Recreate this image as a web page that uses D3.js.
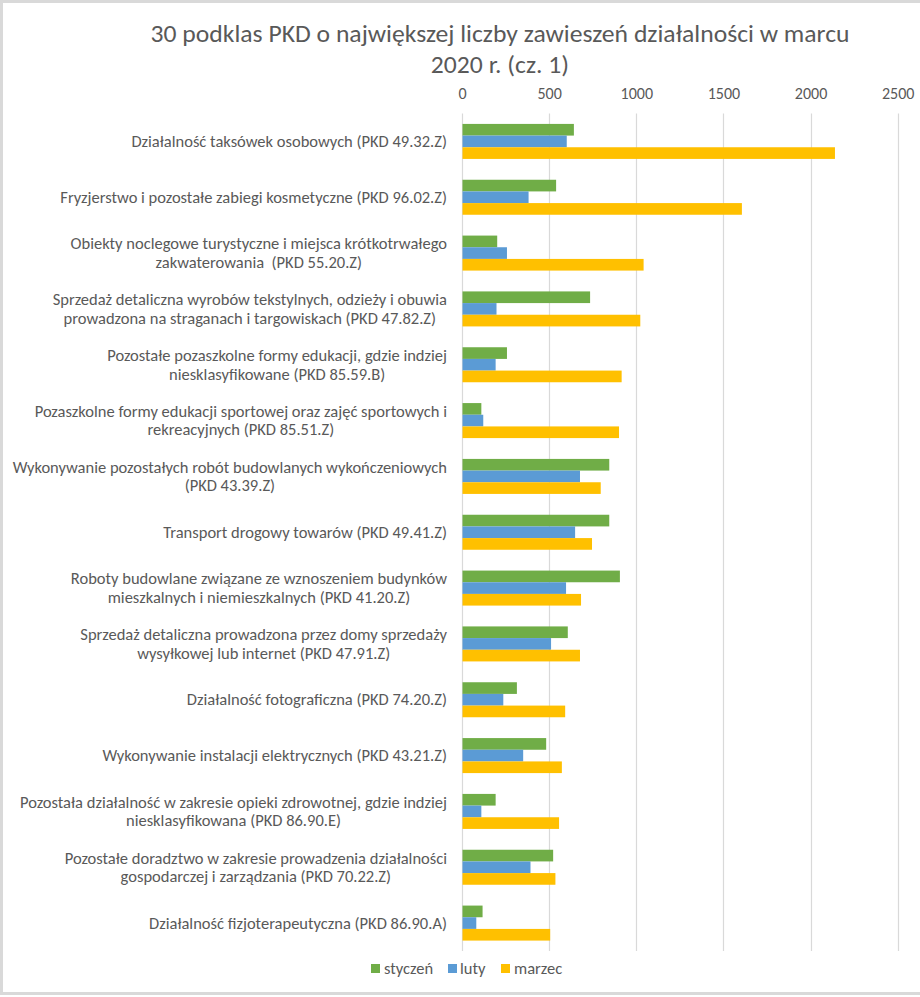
<!DOCTYPE html>
<html>
<head>
<meta charset="utf-8">
<script src="https://cdn.jsdelivr.net/npm/d3@7"></script>
<style>
  html, body { margin: 0; padding: 0; background: #fff; }
  svg { display: block; }
  text { font-family: Carlito, Lato, "Open Sans", sans-serif; fill: #595959; }
</style>
</head>
<body>
<svg id="chart" width="920" height="997"></svg>
<script>
const titleLines = ["30 podklas PKD o największej liczby zawieszeń działalności w marcu", "2020 r. (cz. 1)"];
const categories = [
  "Działalność taksówek osobowych (PKD 49.32.Z)",
  "Fryzjerstwo i pozostałe zabiegi kosmetyczne (PKD 96.02.Z)",
  "Obiekty noclegowe turystyczne i miejsca krótkotrwałego\nzakwaterowania  (PKD 55.20.Z)",
  "Sprzedaż detaliczna wyrobów tekstylnych, odzieży i obuwia\nprowadzona na straganach i targowiskach (PKD 47.82.Z)",
  "Pozostałe pozaszkolne formy edukacji, gdzie indziej\nniesklasyfikowane (PKD 85.59.B)",
  "Pozaszkolne formy edukacji sportowej oraz zajęć sportowych i\nrekreacyjnych (PKD 85.51.Z)",
  "Wykonywanie pozostałych robót budowlanych wykończeniowych\n(PKD 43.39.Z)",
  "Transport drogowy towarów (PKD 49.41.Z)",
  "Roboty budowlane związane ze wznoszeniem budynków\nmieszkalnych i niemieszkalnych (PKD 41.20.Z)",
  "Sprzedaż detaliczna prowadzona przez domy sprzedaży\nwysyłkowej lub internet (PKD 47.91.Z)",
  "Działalność fotograficzna (PKD 74.20.Z)",
  "Wykonywanie instalacji elektrycznych (PKD 43.21.Z)",
  "Pozostała działalność w zakresie opieki zdrowotnej, gdzie indziej\nniesklasyfikowana (PKD 86.90.E)",
  "Pozostałe doradztwo w zakresie prowadzenia działalności\ngospodarczej i zarządzania (PKD 70.22.Z)",
  "Działalność fizjoterapeutyczna (PKD 86.90.A)"
];
const seriesNames = ["styczeń", "luty", "marzec"];
const styczen = [642, 540, 202, 735, 258, 111, 845, 845, 906, 607, 315, 483, 193, 523, 118];
const luty    = [601, 382, 258, 198, 193, 122, 677, 649, 597, 511, 237, 351, 111, 393, 82];
const marzec  = [2140, 1606, 1042, 1023, 916, 901, 796, 746, 683, 677, 592, 573, 557, 536, 506];
const tickValues = [0, 500, 1000, 1500, 2000, 2500];
const colors = ["#70AD47", "#5B9BD5", "#FFC000"];

const seriesValues = [styczen, luty, marzec];
const data = categories.map((c, i) => ({ cat: c, values: seriesValues.map((s, j) => ({ key: seriesNames[j], value: s[i] })) }));

const svg = d3.select("#chart");

// outer frame
svg.append("rect").attr("x", 1.5).attr("y", 1.5).attr("width", 930).attr("height", 992)
  .attr("fill", "#fff").attr("stroke", "#d9d9d9").attr("stroke-width", 3);

const plotTop = 113.5, plotBottom = 951;
const x = d3.scaleLinear().domain([0, 2500]).range([462, 897.7]);
const y = d3.scaleBand().domain(categories).range([plotTop, plotBottom]).paddingInner(0.373).paddingOuter(0.1865);
const ySub = d3.scaleBand().domain(seriesNames).range([0, y.bandwidth()]);
const color = d3.scaleOrdinal().domain(seriesNames).range(colors);

// gridlines
svg.append("g").selectAll("line").data(tickValues).join("line")
  .attr("x1", d => Math.round(x(d)) + 0.5).attr("x2", d => Math.round(x(d)) + 0.5)
  .attr("y1", plotTop).attr("y2", plotBottom)
  .attr("stroke", "#d9d9d9").attr("stroke-width", 1.2);

// top axis labels
const axis = svg.append("g").attr("transform", `translate(0,${plotTop})`)
  .call(d3.axisTop(x).tickValues(tickValues).tickSize(0).tickPadding(15).tickFormat(d3.format("d")));
axis.select(".domain").remove();
axis.selectAll("text").attr("font-family", null).attr("font-size", null).style("font-size", "16px").attr("fill", "#595959");

// bars
const groups = svg.append("g").selectAll("g").data(data).join("g")
  .attr("transform", d => `translate(0,${y(d.cat)})`);
groups.selectAll("rect").data(d => d.values).join("rect")
  .attr("x", x(0) + 0.5)
  .attr("y", d => ySub(d.key))
  .attr("height", ySub.bandwidth())
  .attr("width", d => x(d.value) - x(0) - 0.5)
  .attr("fill", d => color(d.key));

// category labels
const labelRight = 447;
const lineH = 18.5;
const labelSize = 16.5;
const labels = svg.append("g").selectAll("text").data(categories).join("text")
  .style("font-size", labelSize + "px")
  .style("white-space", "pre")
  .attr("text-anchor", "middle");
labels.each(function(d) {
  const lines = d.split("\n");
  const t = d3.select(this);
  const cy = y(d) + y.bandwidth() / 2;
  const y0 = cy - (lines.length - 1) * lineH / 2 + 5.5;
  lines.forEach((ln, k) => {
    t.append("tspan").attr("y", y0 + k * lineH).text(ln);
  });
  let maxW = 0;
  t.selectAll("tspan").each(function() { maxW = Math.max(maxW, this.getComputedTextLength()); });
  t.selectAll("tspan").attr("x", labelRight - maxW / 2);
});

// title
const titleWidth = 699;
const title = svg.append("g");
const titleTexts = title.selectAll("text").data(titleLines).join("text")
  .attr("x", 500).attr("y", (d, i) => 42 + i * 31)
  .attr("text-anchor", "middle")
  .style("font-size", "23.5px")
  .text(d => d);
const natural = titleTexts.nodes()[0].getComputedTextLength();
const stretch = titleWidth / natural;
titleTexts.each(function() {
  const w = this.getComputedTextLength();
  d3.select(this).attr("textLength", w * stretch).attr("lengthAdjust", "spacingAndGlyphs");
});

// legend
const legendItems = [
  { key: "styczeń", sx: 371, tx: 384 },
  { key: "luty", sx: 448, tx: 460 },
  { key: "marzec", sx: 501, tx: 514 }
];
const legend = svg.append("g").selectAll("g").data(legendItems).join("g");
legend.append("rect").attr("x", d => d.sx).attr("y", 964).attr("width", 9).attr("height", 9)
  .attr("fill", d => color(d.key));
legend.append("text").attr("x", d => d.tx).attr("y", 974)
  .style("font-size", "16.5px").text(d => d.key);
</script>
</body>
</html>
